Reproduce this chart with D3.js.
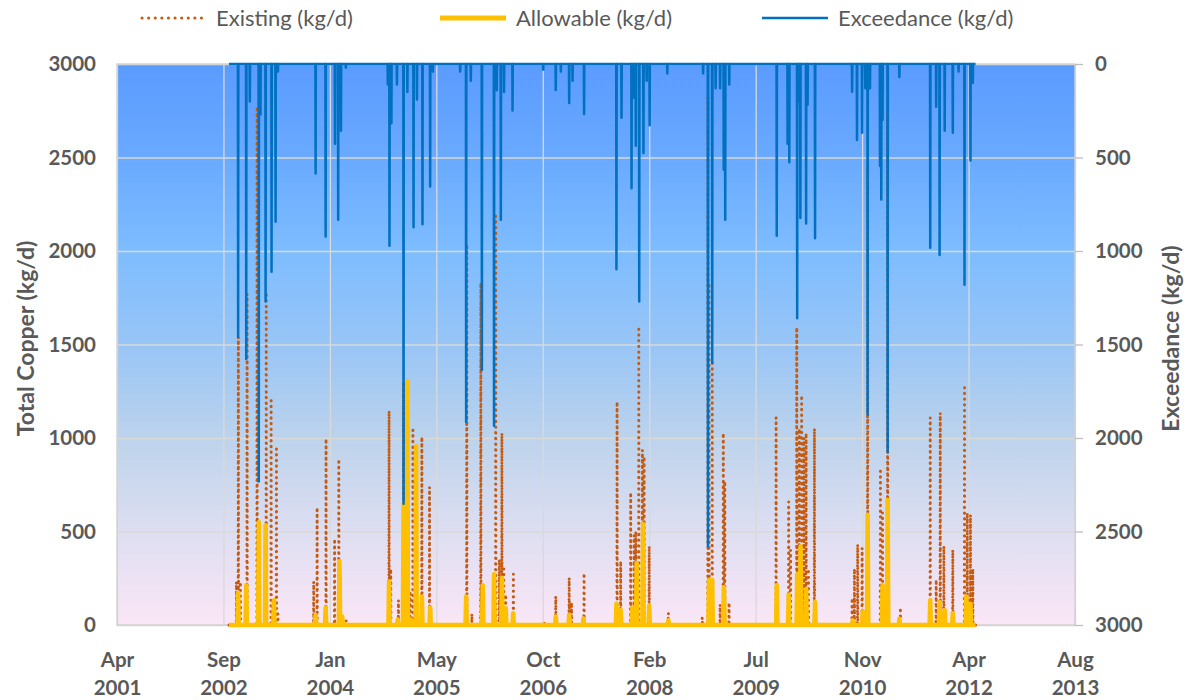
<!DOCTYPE html>
<html><head><meta charset="utf-8">
<script src="https://cdn.jsdelivr.net/npm/d3@7/dist/d3.min.js"></script>
<style>
html,body{margin:0;padding:0;background:#fff;}
svg{display:block;font-family:Lato,"Open Sans",sans-serif;}
</style></head>
<body><svg id="chart" width="1187" height="700"></svg>
<script>
// Dates are Excel serial day numbers (1900 date system)
const seriesStart = 37526, seriesEnd = 41033;

const existingDays = [37561,37570,37580,37604,37611,37658,37701,37724,37749,37756,37924,37940,37982,38022,38042,38050,38076,
 38278,38286,38322,38346,38377,38390,38432,38468,38643,38667,38709,38779,38796,38808,38817,38826,38862,
 39007,39061,39124,39135,39194,39349,39366,39413,39429,39437,39451,39468,39476,39500,39590,39749,39776,39781,39796,39833,39848,39855,39875,
 40096,40155,40164,40193,40205,40216,40226,40237,40248,40276,40453,40464,40479,40500,40526,40586,40596,40620,40680,
 40820,40848,40867,40884,40926,40981,40994,41009,41020];
const existingValues = [230,1540,230,210,1770,2772,1780,1214,956,60,232,629,996,460,887,250,25,
 1145,300,133,1300,182,1042,1006,738,2037,60,1829,2186,350,1026,300,163,272,
 15,153,252,120,276,1194,341,708,480,500,1581,936,900,421,63,40,2820,1829,1400,110,1026,768,120,
 1109,659,400,1591,1050,1228,1000,1026,300,1050,143,300,431,411,2460,837,600,2740,93,
 1109,242,1135,421,401,1284,600,589,300];

const allowableDays = [37569,37607,37666,37698,37737,37933,37980,38045,38058,
 38278,38319,38346,38364,38380,38405,38432,38471,38640,38718,38771,38808,38826,38861,
 39061,39124,39191,39346,39366,39421,39441,39471,39500,39590,39781,39796,39851,
 40099,40155,40195,40211,40237,40279,40456,40503,40526,40596,40620,40675,
 40820,40864,40888,40926,40989,41009];
const allowableValues = [173,212,550,534,133,54,93,341,45,
 232,30,649,1303,30,956,153,93,153,212,272,252,90,63,
 45,55,35,113,80,93,331,540,103,25,242,242,202,
 212,163,272,421,192,123,25,73,589,212,669,34,
 133,123,80,63,153,113];

const exceedDays = [37569,37607,37624,37666,37674,37698,37726,37745,37756,37933,37980,38024,38039,38052,38075,
 38272,38280,38289,38315,38346,38364,38393,38409,38435,38471,38484,38612,38640,38662,38714,38771,38784,38803,38818,38858,
 39002,39061,39085,39124,39140,39194,39346,39370,39417,39429,39437,39453,39473,39488,39502,39585,
 39753,39776,39796,39812,39833,39850,39857,39876,
 40099,40150,40158,40195,40205,40210,40237,40244,40279,40453,40476,40500,40515,40526,40537,40584,40590,40596,40620,40675,
 40820,40848,40864,40888,40926,40953,40981,41009,41020];
const exceedValues = [1458,1577,200,2232,270,1270,1111,843,40,585,922,427,833,357,20,
 110,972,317,110,2351,150,873,190,857,655,40,40,1915,90,1637,1935,140,833,150,248,
 30,139,40,208,90,268,1097,288,665,180,437,1270,476,90,327,50,
 50,2579,1597,130,130,565,833,110,
 919,427,526,1359,200,823,853,218,932,149,407,367,130,1875,130,546,724,300,2073,69,
 982,228,1022,357,367,40,1180,516,100];

const xTickDays = [37000,37500,38000,38500,39000,39500,40000,40500,41000,41500];
const leftTicks = [0,500,1000,1500,2000,2500,3000];
const rightTicks = [0,500,1000,1500,2000,2500,3000];
const legendLabels = ["Existing (kg/d)","Allowable (kg/d)","Exceedance (kg/d)"];
const leftTitle = "Total Copper (kg/d)";
const rightTitle = "Exceedance (kg/d)";

const C_EXIST = "#C55A11", C_ALLOW = "#FFC000", C_EXCEED = "#0070C0", C_TEXT = "#595959";
const FONT = "Lato, 'Open Sans', sans-serif";
const excelEpoch = Date.UTC(1899,11,30);
const toDate = s => new Date(excelEpoch + s*864e5);

const svg = d3.select("#chart");
const L = 117, R = 1075, T = 64, B = 625;

const x = d3.scaleUtc().domain([toDate(37000), toDate(41500)]).range([L, R]);
const yL = d3.scaleLinear().domain([0,3000]).range([B, T]);
const yR = d3.scaleLinear().domain([0,3000]).range([T, B]);

// background gradient
const defs = svg.append("defs");
const grad = defs.append("linearGradient").attr("id","bg").attr("x1",0).attr("y1",0).attr("x2",0).attr("y2",1);
[[0,"#5A9BFF"],[0.17,"#6AAAFF"],[0.33,"#7DBCFF"],[0.5,"#98C5F6"],[0.67,"#BDD3EC"],[0.83,"#DDDEF1"],[1,"#FAE6F6"]]
  .forEach(([o,c]) => grad.append("stop").attr("offset",o).attr("stop-color",c));
svg.append("rect").attr("x",L).attr("y",T).attr("width",R-L).attr("height",B-T).attr("fill","url(#bg)");

// gridlines
const gx = svg.append("g").attr("transform",`translate(0,${B})`)
  .call(d3.axisBottom(x).tickValues(xTickDays.map(toDate)).tickSize(-(B-T)).tickFormat(""));
gx.select(".domain").remove();
gx.selectAll("line").attr("stroke","#D9D9D9").attr("stroke-width",1.3);
const gy = svg.append("g").attr("transform",`translate(${L},0)`)
  .call(d3.axisLeft(yL).tickValues(leftTicks).tickSize(-(R-L)).tickFormat(""));
gy.select(".domain").remove();
gy.selectAll("line").attr("stroke","#D9D9D9").attr("stroke-width",1.3);

// plot border
svg.append("rect").attr("x",L).attr("y",T).attr("width",R-L).attr("height",B-T)
  .attr("fill","none").attr("stroke","#D0D0D0").attr("stroke-width",1.3);

function spikes(days, vals, half) {
  const pts = [[seriesStart,0]];
  days.forEach((d,i) => { pts.push([d-half,0],[d,vals[i]],[d+half,0]); });
  pts.push([seriesEnd,0]);
  pts.sort((a,b)=>a[0]-b[0]);
  return pts;
}

const lineL = d3.line().x(p => x(toDate(p[0]))).y(p => yL(p[1]));
const lineR = d3.line().x(p => x(toDate(p[0]))).y(p => yR(p[1]));

svg.append("path").datum(spikes(existingDays, existingValues, 1))
  .attr("d", lineL).attr("fill","none").attr("stroke",C_EXIST).attr("stroke-width",3)
  .attr("stroke-linecap","round").attr("stroke-linejoin","round").attr("stroke-dasharray","0.1 5.6");

svg.append("path").datum(spikes(allowableDays, allowableValues, 3))
  .attr("d", lineL).attr("fill","none").attr("stroke",C_ALLOW).attr("stroke-width",4.5)
  .attr("stroke-linejoin","round");

svg.append("path").datum(spikes(exceedDays, exceedValues, 1))
  .attr("d", lineR).attr("fill","none").attr("stroke",C_EXCEED).attr("stroke-width",2.5)
  .attr("stroke-linejoin","round");

// axes
const fmtM = d3.utcFormat("%b"), fmtY = d3.utcFormat("%Y");
const ax = svg.append("g").attr("transform",`translate(0,${B})`)
  .call(d3.axisBottom(x).tickValues(xTickDays.map(toDate)).tickSize(0).tickPadding(0).tickFormat(""));
ax.attr("font-family", FONT);
ax.select(".domain").remove();
ax.selectAll(".tick").each(function(d){
  const t = d3.select(this).append("text").attr("fill",C_TEXT).attr("text-anchor","middle")
    .attr("font-family",FONT).attr("font-size",20.5).attr("font-weight",700);
  t.append("tspan").attr("x",0).attr("y",42).text(fmtM(d));
  t.append("tspan").attr("x",0).attr("y",70).text(fmtY(d));
});

const ayl = svg.append("g").attr("transform",`translate(${L},0)`)
  .call(d3.axisLeft(yL).tickValues(leftTicks).tickFormat(d3.format("d")).tickSize(0).tickPadding(21));
ayl.attr("font-family", FONT);
ayl.select(".domain").remove();
ayl.selectAll("text").attr("fill",C_TEXT).attr("font-size",20.5).attr("font-weight",700).attr("font-family",FONT);

const ayr = svg.append("g").attr("transform",`translate(${R},0)`)
  .call(d3.axisRight(yR).tickValues(rightTicks).tickFormat(d3.format("d")).tickSize(8).tickPadding(12));
ayr.attr("font-family", FONT);
ayr.select(".domain").remove();
ayr.selectAll("line").attr("stroke","#BFBFBF").attr("stroke-width",1.3);
ayr.selectAll("text").attr("fill",C_TEXT).attr("font-size",20.5).attr("font-weight",700).attr("font-family",FONT);

// axis titles
svg.append("text").attr("transform",`translate(34,${(T+B)/2 - 6}) rotate(-90)`)
  .attr("text-anchor","middle").attr("fill",C_TEXT).attr("font-family",FONT)
  .attr("font-size",23).attr("font-weight",700).text(leftTitle);
svg.append("text").attr("transform",`translate(1179,${(T+B)/2 - 6}) rotate(-90)`)
  .attr("text-anchor","middle").attr("fill",C_TEXT).attr("font-family",FONT)
  .attr("font-size",23).attr("font-weight",700).text(rightTitle);

// legend
const legX = [140, 440, 762];
const leg = svg.append("g");
legendLabels.forEach((lab,i) => {
  const g = leg.append("g").attr("transform",`translate(${legX[i]},18)`);
  const ln = g.append("line").attr("x1",0).attr("x2",66).attr("y1",0).attr("y2",0);
  if (i===0) ln.attr("stroke",C_EXIST).attr("stroke-width",3).attr("stroke-linecap","round").attr("stroke-dasharray","0.1 6.5").attr("x1",2);
  if (i===1) ln.attr("stroke",C_ALLOW).attr("stroke-width",5);
  if (i===2) ln.attr("stroke",C_EXCEED).attr("stroke-width",2.5);
  g.append("text").attr("x",76).attr("y",8).attr("fill",C_TEXT).attr("font-family",FONT)
    .attr("font-size",22).text(lab);
});
</script>
</body></html>
